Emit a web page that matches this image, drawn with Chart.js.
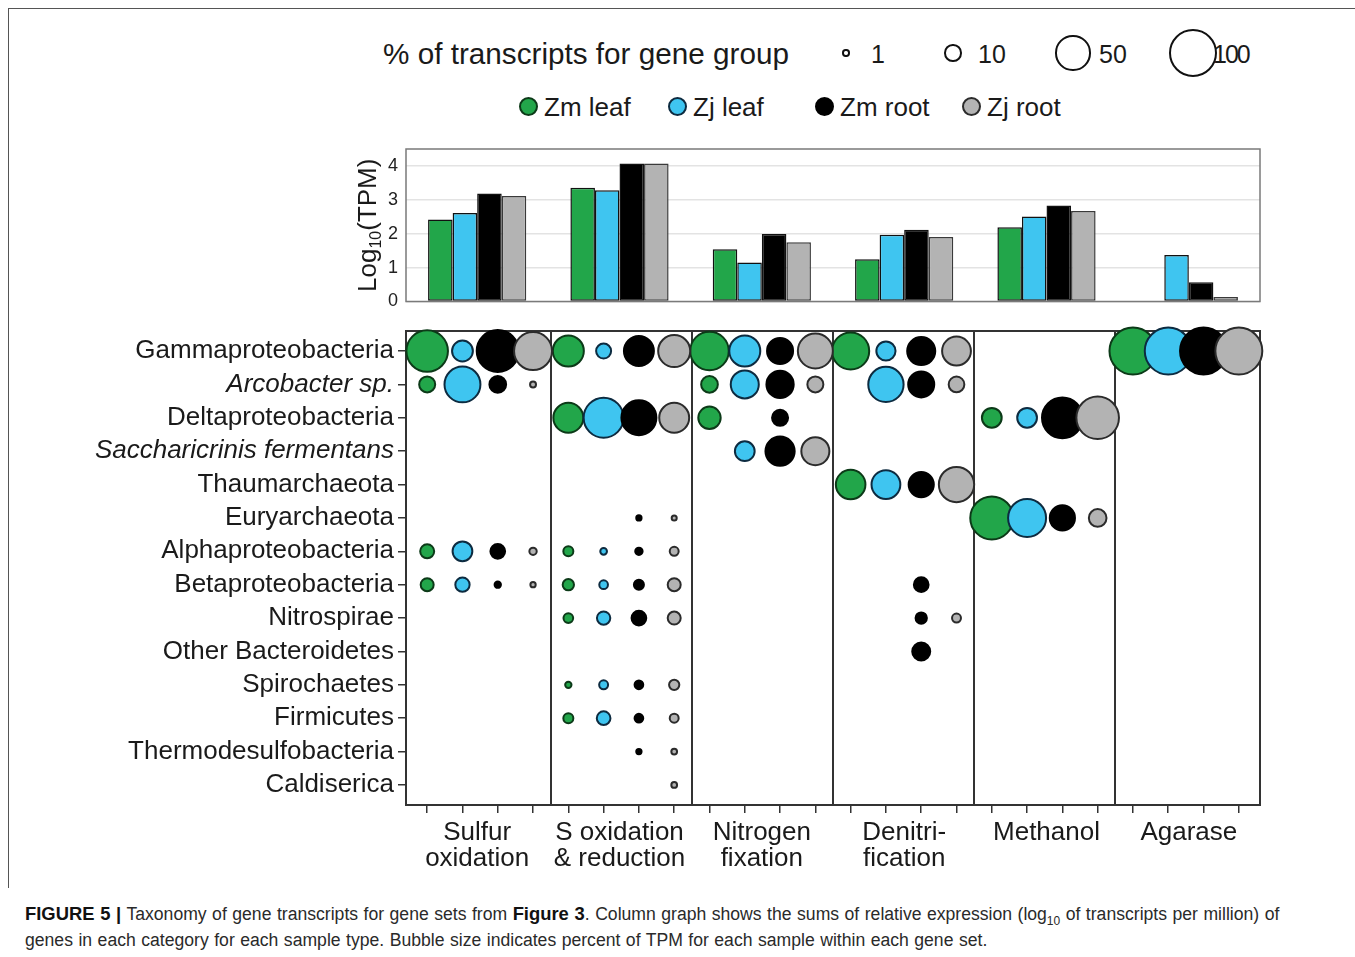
<!DOCTYPE html>
<html>
<head>
<meta charset="utf-8">
<title>Taxonomy of gene transcripts</title>
<script src="https://cdn.jsdelivr.net/npm/chart.js"></script>
<style>
  html, body { margin: 0; padding: 0; }
  body {
    width: 1355px; height: 957px; background: #fff; position: relative; overflow: hidden;
    font-family: "Liberation Sans", Arial, Helvetica, sans-serif; color: #1a1a1a;
  }
  #frame {
    position: absolute; left: 8px; top: 8px; width: 1400px; height: 879px;
    border-left: 1.5px solid #555; border-top: 1.5px solid #555;
  }
  .wrap { position: absolute; left: 0; width: 1355px; }
  #barWrap { top: 140px; height: 175px; }
  #bubbleWrap { top: 320px; height: 560px; }
  .txt { position: absolute; white-space: nowrap; line-height: 1; }
  .dot { position: absolute; border-radius: 50%; box-sizing: border-box; }
  #caption {
    position: absolute; left: 25px; top: 901px; font-size: 17.6px; line-height: 26px;
    color: #2a2a2a; white-space: nowrap; word-spacing: 0.6px;
  }
  #caption b { color: #111; font-size: 18.4px; }
  #caption sub { font-size: 12px; line-height: 0; }
</style>
</head>
<body>
<div id="frame"></div>
<div id="legend"></div>
<div class="wrap" id="barWrap"><canvas id="barChart"></canvas></div>
<div class="wrap" id="bubbleWrap"><canvas id="bubbleChart"></canvas></div>
<div id="caption"><b>FIGURE 5 |</b> Taxonomy of gene transcripts for gene sets from <b>Figure 3</b>. Column graph shows the sums of relative expression (log<sub>10</sub> of transcripts per million) of<br>genes in each category for each sample type. Bubble size indicates percent of TPM for each sample within each gene set.</div>

<script>
// ---- categories ----
const taxa = [
  'Gammaproteobacteria', 'Arcobacter sp.', 'Deltaproteobacteria', 'Saccharicrinis fermentans',
  'Thaumarchaeota', 'Euryarchaeota', 'Alphaproteobacteria', 'Betaproteobacteria', 'Nitrospirae',
  'Other Bacteroidetes', 'Spirochaetes', 'Firmicutes', 'Thermodesulfobacteria', 'Caldiserica'
];
const italicTaxa = ['Arcobacter sp.', 'Saccharicrinis fermentans'];
const geneSets = [
  ['Sulfur', 'oxidation'], ['S oxidation', '& reduction'], ['Nitrogen', 'fixation'],
  ['Denitri-', 'fication'], ['Methanol'], ['Agarase']
];
const samples = ['Zm leaf', 'Zj leaf', 'Zm root', 'Zj root'];
const yTicksTPM = [0, 1, 2, 3, 4];
const sizeLegendPct = [1, 10, 50, 100];

// ---- log10(TPM) summed per gene set, one array per sample ----
const tpmZmLeaf = [2.42, 3.36, 1.54, 1.25, 2.19, null];
const tpmZjLeaf = [2.61, 3.28, 1.15, 1.97, 2.51, 1.37];
const tpmZmRoot = [3.19, 4.07, 1.99, 2.12, 2.83, 0.57];
const tpmZjRoot = [3.11, 4.07, 1.75, 1.90, 2.67, 0.13];

// ---- % of TPM per taxon (rows follow taxa); columns: Zm leaf, Zj leaf, Zm root, Zj root ----
const _ = null;
const pctSulfurOxidation = [
  [78, 19, 80, 65], [11, 58, 12, 1.3], _, _, _, _,
  [8.3, 17, 9.2, 2.1], [7.1, 8.7, 1.5, 1.0], _, _, _, _, _, _
];
const pctSOxidationReduction = [
  [43, 9.6, 40, 46], _, [40, 72, 55, 40], _, _, [_, _, 1.0, 0.9],
  [4.1, 1.7, 2.1, 3.2], [5.3, 3.0, 4.1, 7.1], [3.8, 7.5, 9.2, 7.1], _,
  [1.5, 3.2, 3.0, 4.3], [4.1, 7.9, 3.0, 3.2], [_, _, 1.0, 1.2], [_, _, _, 1.2]
];
const pctNitrogenFixation = [
  [67, 43, 30, 55], [12, 35, 33, 11], [22, _, 11, _], [_, 17, 38, 35],
  _, _, _, _, _, _, _, _, _, _
];
const pctDenitrification = [
  [62, 16, 35, 37], [_, 56, 30, 10.5], _, _, [39, 37, 28, 56], _, _,
  [_, _, 9.2, _], [_, _, 5.3, 3.2], [_, _, 14, _], _, _, _, _
];
const pctMethanol = [
  _, _, [17, 17, 75, 82], _, _, [84, 65, 28, 13.5], _, _, _, _, _, _, _, _
];
const pctAgarase = [
  [100, 100, 100, 100], _, _, _, _, _, _, _, _, _, _, _, _, _
];

// ---- styling ----
const fills = ['#22a64a', '#3fc5f0', '#000000', '#b3b3b3'];
const edges = ['#0c3a18', '#0d2b40', '#000000', '#2b2b2b'];
const FONT = '"Liberation Sans", Arial, Helvetica, sans-serif';
const BUBBLE_EDGE = 2;
// outer diameter of a bubble for a given percentage
function bubbleDiameter(p) { return 4.63 * Math.sqrt(p) + 2.66; }
function bubbleRadius(p) { return bubbleDiameter(p) / 2 - BUBBLE_EDGE / 2; }

Chart.defaults.font.family = FONT;
Chart.defaults.color = '#1a1a1a';

// ---- legend (HTML) ----
const legend = document.getElementById('legend');
function addText(text, x, cy, size) {
  const el = document.createElement('div');
  el.className = 'txt';
  el.textContent = text;
  el.style.left = x + 'px';
  el.style.top = (cy - size * 0.5) + 'px';
  el.style.fontSize = size + 'px';
  legend.appendChild(el);
  return el;
}
function addDot(cx, cy, d, fill, edge, bw) {
  const el = document.createElement('div');
  el.className = 'dot';
  el.style.left = (cx - d / 2) + 'px';
  el.style.top = (cy - d / 2) + 'px';
  el.style.width = d + 'px';
  el.style.height = d + 'px';
  el.style.background = fill;
  el.style.border = bw + 'px solid ' + edge;
  legend.appendChild(el);
}
addText('% of transcripts for gene group', 383, 54, 29.7);
const sizeCx = [846, 953, 1073, 1193];
const sizeTx = [871, 978, 1099, 1213];
sizeLegendPct.forEach((p, i) => {
  addDot(sizeCx[i], 53, bubbleDiameter(p), '#fff', '#111', BUBBLE_EDGE);
  const t = addText(String(p), sizeTx[i], 54, 25);
  if (p === 100) t.style.letterSpacing = '-2px';
});
const sampleCx = [528, 677, 824, 971];
samples.forEach((s, i) => {
  addDot(sampleCx[i], 106, 19, fills[i], edges[i], 2);
  addText(s, sampleCx[i] + 16, 107, 26);
});

// ---- shared plot frame ----
const framePlugin = {
  id: 'plotFrame',
  beforeDatasetsDraw(chart, args, opts) {
    const a = chart.chartArea, ctx = chart.ctx;
    ctx.save();
    ctx.strokeStyle = opts.color;
    ctx.lineWidth = opts.width;
    ctx.strokeRect(a.left, a.top, a.right - a.left, a.bottom - a.top);
    ctx.restore();
  }
};

// ---- y-axis title with subscript for the column graph ----
const tpmTitlePlugin = {
  id: 'tpmTitle',
  afterDraw(chart) {
    const ctx = chart.ctx;
    const a = chart.chartArea;
    const big = '26px ' + FONT, small = '16px ' + FONT;
    ctx.save();
    ctx.fillStyle = '#1a1a1a';
    ctx.font = big; const w1 = ctx.measureText('Log').width; const w3 = ctx.measureText('(TPM)').width;
    ctx.font = small; const w2 = ctx.measureText('10').width;
    const total = w1 + w2 + w3;
    ctx.translate(376, (a.top + a.bottom) / 2);
    ctx.rotate(-Math.PI / 2);
    ctx.textBaseline = 'alphabetic';
    ctx.textAlign = 'left';
    let x = -total / 2;
    ctx.font = big; ctx.fillText('Log', x, 0); x += w1;
    ctx.font = small; ctx.fillText('10', x, 5); x += w2;
    ctx.font = big; ctx.fillText('(TPM)', x, 0);
    ctx.restore();
  }
};

// vertical scales keep the plot area exactly where the layout padding puts it
function fixedWidth(w) {
  return s => { s.width = w; s.paddingTop = 0; s.paddingBottom = 0; };
}

// ---- column graph ----
const tpmSeries = [tpmZmLeaf, tpmZjLeaf, tpmZmRoot, tpmZjRoot];
new Chart(document.getElementById('barChart'), {
  type: 'bar',
  data: {
    labels: geneSets.map(g => g.join(' ')),
    datasets: samples.map((s, i) => ({
      label: s,
      data: tpmSeries[i],
      backgroundColor: fills[i],
      borderColor: i === 3 ? '#3a3a3a' : '#111',
      borderWidth: 1.5,
      borderSkipped: false,
      categoryPercentage: 0.69,
      barPercentage: 1
    }))
  },
  options: {
    responsive: true, maintainAspectRatio: false, animation: false, events: [],
    layout: { autoPadding: false, padding: { top: 9, bottom: 13.5, left: 346, right: 95 } },
    plugins: { legend: { display: false }, tooltip: { enabled: false }, plotFrame: { color: '#7a7a7a', width: 1.5 } },
    scales: {
      x: { display: false },
      y: {
        min: 0, max: 4.5,
        afterBuildTicks: s => { s.ticks = yTicksTPM.map(v => ({ value: v })); },
        afterFit: fixedWidth(60),
        ticks: { font: { size: 18 }, color: '#222', padding: 8 },
        grid: { color: '#e3e3e3', lineWidth: 1.5, drawTicks: false },
        border: { display: false }
      }
    }
  },
  plugins: [framePlugin, tpmTitlePlugin]
});

// ---- bubble chart ----
const pctSets = [pctSulfurOxidation, pctSOxidationReduction, pctNitrogenFixation,
                 pctDenitrification, pctMethanol, pctAgarase];
const bubbleSets = samples.map((s, si) => {
  const pts = [];
  pctSets.forEach((rows, gi) => {
    rows.forEach((row, ti) => {
      if (row && row[si] != null) pts.push({ x: gi * 4 + si, y: ti, r: bubbleRadius(row[si]) });
    });
  });
  return {
    label: s, data: pts, xAxisID: 'x', yAxisID: 'y',
    backgroundColor: fills[si], borderColor: edges[si], borderWidth: BUBBLE_EDGE,
    clip: false, order: 3 - si
  };
});
const columnTicks = Array.from({ length: geneSets.length * samples.length }, (_, i) => i);
const panelBreaks = [3.5, 7.5, 11.5, 15.5, 19.5];

new Chart(document.getElementById('bubbleChart'), {
  type: 'bubble',
  data: { datasets: bubbleSets },
  options: {
    responsive: true, maintainAspectRatio: false, animation: false, events: [],
    layout: { autoPadding: false, padding: { top: 11, bottom: 7, left: 6, right: 95 } },
    plugins: { legend: { display: false }, tooltip: { enabled: false }, plotFrame: { color: '#333', width: 2 } },
    scales: {
      x: {
        type: 'linear', position: 'bottom', min: -0.6, max: 23.6,
        afterBuildTicks: s => { s.ticks = columnTicks.map(v => ({ value: v })); },
        afterFit: s => { s.height = 8; },
        ticks: { display: false },
        grid: { drawOnChartArea: false, drawTicks: true, tickLength: 8, color: '#333', lineWidth: 1.5 },
        border: { display: true, color: '#333', width: 2 }
      },
      groups: {
        type: 'category', position: 'bottom', labels: geneSets, offset: true,
        afterFit: s => { s.height = 60; },
        ticks: { font: { size: 26, lineHeight: 1.0 }, color: '#1a1a1a', padding: -1, maxRotation: 0, autoSkip: false },
        grid: { display: false },
        border: { display: false }
      },
      panels: {
        type: 'linear', position: 'top', min: -0.6, max: 23.6,
        afterBuildTicks: s => { s.ticks = panelBreaks.map(v => ({ value: v })); },
        afterFit: s => { s.height = 0; },
        ticks: { display: false },
        grid: { drawTicks: false, color: '#333', lineWidth: 2 },
        border: { display: false }
      },
      y: {
        type: 'linear', reverse: true, min: -0.6, max: 13.6,
        afterBuildTicks: s => { s.ticks = taxa.map((t, i) => ({ value: i })); },
        afterFit: fixedWidth(400),
        ticks: {
          callback: v => taxa[v],
          font: ctx => ({ size: 26, style: italicTaxa.includes(taxa[ctx.index]) ? 'italic' : 'normal' }),
          color: '#1a1a1a', padding: 4
        },
        grid: { drawOnChartArea: false, tickLength: 8, color: '#333', lineWidth: 1.5 },
        border: { color: '#333', width: 2 }
      }
    }
  },
  plugins: [framePlugin]
});
</script>
</body>
</html>
